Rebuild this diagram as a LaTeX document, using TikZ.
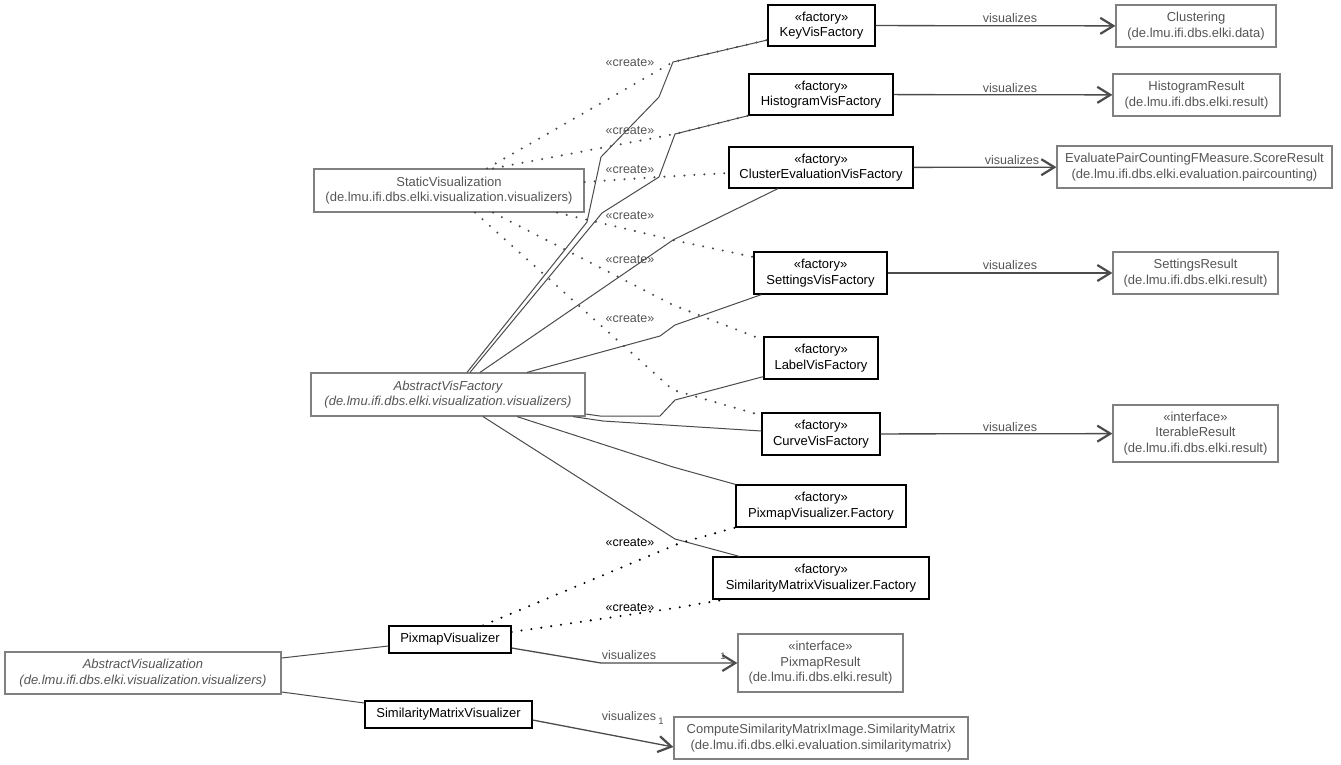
\documentclass[tikz,border=0pt]{standalone}
\usepackage{fontspec}
\setmainfont{Liberation Sans}
\usetikzlibrary{arrows.meta}
\definecolor{umlline}{RGB}{75,75,75}
\definecolor{umlgray}{RGB}{128,128,128}
\definecolor{umltext}{RGB}{85,85,85}

\begin{document}
\begin{tikzpicture}[
    x=1pt, y=-1pt,
    font=\fontsize{13}{15.5}\selectfont,
    box/.style={line width=1.2pt, align=center, inner sep=0pt, fill=white},
    factory/.style={box, draw=black, text=black},
    klass/.style={box, draw=umlgray, text=umltext},
    abstract/.style={klass, font=\fontsize{13}{15.5}\selectfont\itshape},
    inherit/.style={draw=umlline, line width=1pt},
    create/.style={draw=umlline, line width=2.3pt, line cap=round, dash pattern=on 0pt off 10pt},
    createdark/.style={create, draw=black},
    visualizes/.style={draw=umlline, line width=1.3pt, -{Straight Barb[length=13pt, width=16pt, line width=2.2pt]}},
    lbl/.style={text=umltext, inner sep=0pt, font=\fontsize{12.5}{14}\selectfont},
    mult/.style={text=umltext, inner sep=0pt, font=\fontsize{9.5}{10}\selectfont}
  ]
    \fill[white] (0,0) rectangle (1341,765);
    \useasboundingbox (0,0) rectangle (1341,765);

    % classes
    \node[factory, minimum width=107pt, minimum height=41pt] (keyvis) at (821.5,25.5) {«factory»\\KeyVisFactory};
    \node[klass, minimum width=160pt, minimum height=42pt] (clustering) at (1196,26) {Clustering\\(de.lmu.ifi.dbs.elki.data)};
    \node[factory, minimum width=144pt, minimum height=41pt] (histvis) at (821,94.5) {«factory»\\HistogramVisFactory};
    \node[klass, minimum width=167pt, minimum height=42pt] (histres) at (1196.5,95) {HistogramResult\\(de.lmu.ifi.dbs.elki.result)};
    \node[factory, minimum width=184pt, minimum height=41pt] (clusteval) at (821,167.5) {«factory»\\ClusterEvaluationVisFactory};
    \node[klass, minimum width=275pt, minimum height=42pt] (scoreres) at (1194.5,167) {EvaluatePairCountingFMeasure.ScoreResult\\(de.lmu.ifi.dbs.elki.evaluation.paircounting)};
    \node[klass, minimum width=270pt, minimum height=43pt] (staticvis) at (449,190.5) {StaticVisualization\\(de.lmu.ifi.dbs.elki.visualization.visualizers)};
    \node[factory, minimum width=133pt, minimum height=42pt] (settingsvis) at (820.5,273) {«factory»\\SettingsVisFactory};
    \node[klass, minimum width=165pt, minimum height=42pt] (settingsres) at (1195.5,273) {SettingsResult\\(de.lmu.ifi.dbs.elki.result)};
    \node[factory, minimum width=114pt, minimum height=42pt] (labelvis) at (821,358) {«factory»\\LabelVisFactory};
    \node[abstract, minimum width=274pt, minimum height=43pt] (absvisfac) at (448,394.5) {AbstractVisFactory\\(de.lmu.ifi.dbs.elki.visualization.visualizers)};
    \node[factory, minimum width=118pt, minimum height=42pt] (curvevis) at (821,434) {«factory»\\CurveVisFactory};
    \node[klass, minimum width=165pt, minimum height=57pt] (iterres) at (1195.5,433.5) {«interface»\\IterableResult\\(de.lmu.ifi.dbs.elki.result)};
    \node[factory, minimum width=170pt, minimum height=42pt] (pixfac) at (821,506) {«factory»\\PixmapVisualizer.Factory};
    \node[factory, minimum width=216pt, minimum height=42pt] (simfac) at (821,578) {«factory»\\SimilarityMatrixVisualizer.Factory};
    \node[factory, minimum width=122pt, minimum height=27pt] (pixvis) at (450,639.5) {PixmapVisualizer};
    \node[klass, minimum width=165pt, minimum height=58pt] (pixres) at (820.5,663) {«interface»\\PixmapResult\\(de.lmu.ifi.dbs.elki.result)};
    \node[abstract, minimum width=276pt, minimum height=42pt] (absvis) at (143,673) {AbstractVisualization\\(de.lmu.ifi.dbs.elki.visualization.visualizers)};
    \node[factory, minimum width=167pt, minimum height=27pt] (simvis) at (448.5,714.5) {SimilarityMatrixVisualizer};
    \node[klass, minimum width=294pt, minimum height=42pt] (simmat) at (821,738) {ComputeSimilarityMatrixImage.SimilarityMatrix\\(de.lmu.ifi.dbs.elki.evaluation.similaritymatrix)};

    % generalizations
    \draw[inherit] ([xshift=19pt]absvisfac.north) -- (587,222) -- (601,157) -- (659,97) -- (673,62) -- ([yshift=-14.5pt]keyvis.west);
    \draw[inherit] ([xshift=22pt]absvisfac.north) -- (602,213) -- (659,177) -- (675,134) -- (histvis.south west);
    \draw[inherit] ([xshift=32pt]absvisfac.north) -- (673,240) -- ([xshift=-43pt]clusteval.south);
    \draw[inherit] ([xshift=79pt]absvisfac.north) -- (660,336) -- (675,325) -- ([xshift=8pt]settingsvis.south west);
    \draw[inherit] ([yshift=-19.5pt]absvisfac.east) -- (600,416) -- (660,416) -- (675,400) -- ([yshift=3pt]labelvis.south west);
    \draw[inherit] ([xshift=125pt]absvisfac.south) -- (603,421) -- ([yshift=3pt]curvevis.west);
    \draw[inherit] ([xshift=69pt]absvisfac.south) -- (673,467) -- (pixfac.north west);
    \draw[inherit] ([xshift=35pt]absvisfac.south) -- (675,539) -- ([xshift=27pt]simfac.north west);
    \draw[inherit] ([yshift=15pt]absvis.east) -- ([yshift=-6.5pt]pixvis.west);
    \draw[inherit] ([yshift=-19pt]absvis.east) -- ([yshift=11.5pt]simvis.west);

    % create dependencies
    \draw[create] ([xshift=38pt]staticvis.north) -- (673,62) -- ([yshift=-14.5pt]keyvis.west);
    \draw[create] ([xshift=44pt]staticvis.north) -- (675,134) -- (histvis.south west);
    \draw[create] ([yshift=8.5pt]staticvis.east) -- (659,177) -- ([yshift=-5.5pt]clusteval.west);
    \draw[create] ([xshift=108pt]staticvis.south) -- (673,240) -- ([yshift=16pt]settingsvis.west);
    \draw[create] ([xshift=44pt]staticvis.south) -- (673,305) -- ([yshift=18pt]labelvis.west);
    \draw[create] ([xshift=26pt]staticvis.south) -- (673,390) -- ([yshift=-3pt]curvevis.north west);
    \draw[createdark] ([xshift=33pt]pixvis.north) -- (680,543) -- (pixfac.south west);
    \draw[createdark] ([yshift=7.5pt]pixvis.east) -- (675,608) -- ([xshift=12pt]simfac.south west);

    \node[lbl] (crkey) at (630,63) {«create»};
    \node[lbl] (crhist) at (630,131) {«create»};
    \node[lbl] (crclust) at (630,170) {«create»};
    \node[lbl] (crsett) at (630,216) {«create»};
    \node[lbl] (crlabel) at (630,260) {«create»};
    \node[lbl] (crcurve) at (630,319) {«create»};
    \node[lbl, text=black] (crpix) at (630,543) {«create»};
    \node[lbl, text=black] (crsim) at (630,608) {«create»};

    % visualizes associations
    \draw[visualizes] (keyvis) -- (clustering);
    \draw[visualizes] (histvis) -- (histres);
    \draw[visualizes] (clusteval) -- (scoreres);
    \draw[visualizes] (settingsvis) -- (settingsres);
    \draw[visualizes] (curvevis) -- (iterres);
    \draw[visualizes] ([yshift=-8.5pt]pixvis.east) -- (601,663) -- (pixres.west);
    \draw[visualizes] ([yshift=-5.5pt]simvis.east) -- ([yshift=-9pt]simmat.west);

    \node[lbl] (viskey) at (1010,18) {visualizes};
    \node[lbl] (vishist) at (1010,88) {visualizes};
    \node[lbl] (visclust) at (1012,160) {visualizes};
    \node[lbl] (vissett) at (1010,265) {visualizes};
    \node[lbl] (viscurve) at (1010,427) {visualizes};
    \node[lbl] (vispix) at (629,655) {visualizes};
    \node[lbl] (vissim) at (629,716) {visualizes};
    \node[mult] (mpix) at (723,656) {1};
    \node[mult] (msim) at (661,721) {1};

  \end{tikzpicture}
\end{document}
